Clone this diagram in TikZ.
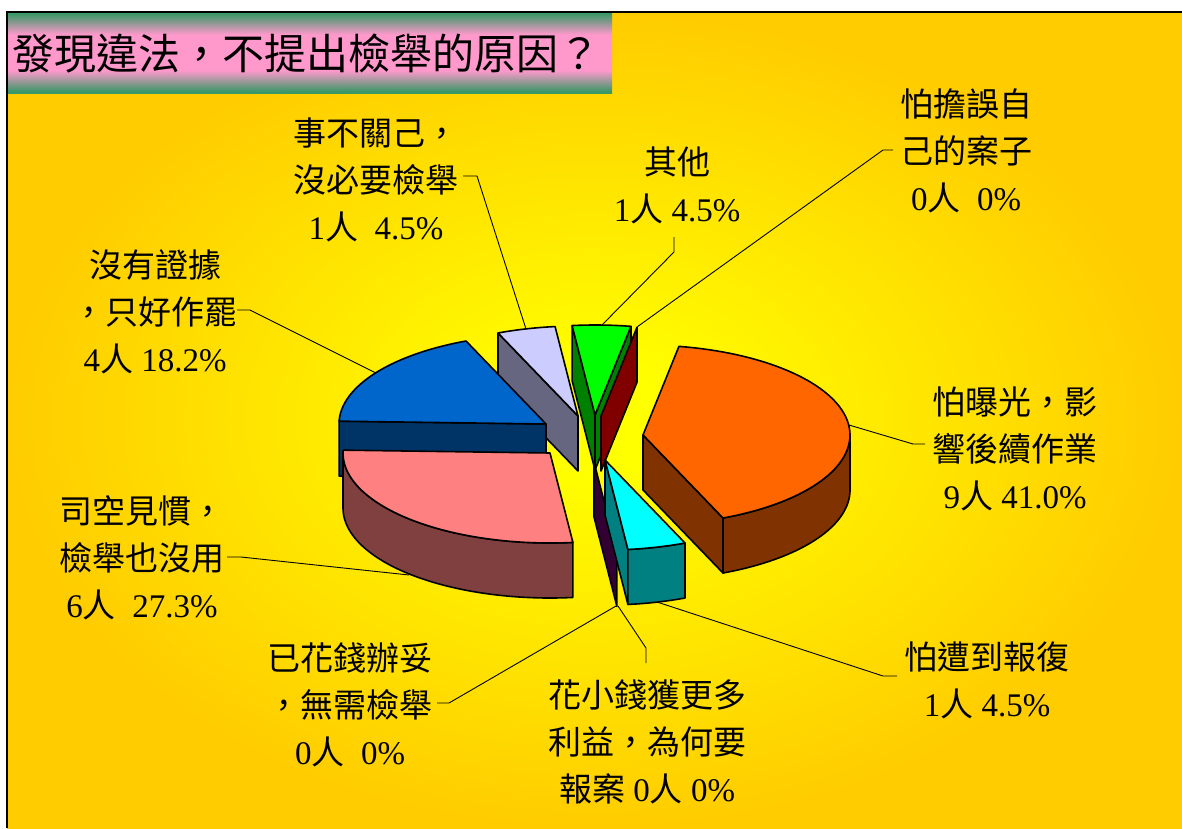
\documentclass[tikz,border=0pt]{standalone}
\usepackage{fontspec}
\setmainfont{Liberation Serif}
\newfontfamily\cjk{Noto Sans CJK TC}
\newcommand\Lt[1]{{\rmfamily #1}}
\definecolor{bgin}{HTML}{FFFF00}
\definecolor{bgout}{HTML}{FFCC00}
\definecolor{tgreen}{HTML}{3A9868}
\definecolor{tpink}{HTML}{FF99CC}
\definecolor{orangeT}{HTML}{FF6600}
\definecolor{orangeS}{HTML}{803300}
\definecolor{cyanT}{HTML}{00FFFF}
\definecolor{cyanS}{HTML}{008080}
\definecolor{purpS}{HTML}{330033}
\definecolor{pinkT}{HTML}{FF8080}
\definecolor{pinkS}{HTML}{804040}
\definecolor{blueT}{HTML}{0066CC}
\definecolor{blueS}{HTML}{003366}
\definecolor{lavT}{HTML}{CCCCFF}
\definecolor{lavS}{HTML}{666680}
\definecolor{greenT}{HTML}{00FF00}
\definecolor{greenS}{HTML}{008000}
\definecolor{redS}{HTML}{800000}
\pgfdeclareradialshading{bgshade}{\pgfpoint{0bp}{0bp}}{color(0bp)=(bgin); color(3bp)=(bgin); color(25bp)=(bgout); color(50bp)=(bgout)}
\pgfdeclareverticalshading{titleshade}{100bp}{color(0bp)=(tgreen); color(26bp)=(tgreen); color(39bp)=(tpink); color(61bp)=(tpink); color(74bp)=(tgreen); color(100bp)=(tgreen)}
\newcommand\pieRx{207}
\newcommand\pieRy{90}
\newcommand\pieH{55}
% top face: cx, cy, from, to, colour
\newcommand\pietop[5]{%
  \filldraw[pieline, fill=#5] (#1,#2) -- plot[domain=#3:#4, samples=70] ({#1+\pieRx*cos(\x)},{#2-\pieRy*sin(\x)}) -- cycle;}
% curved side face
\newcommand\pieside[5]{%
  \filldraw[pieline, fill=#5] plot[domain=#3:#4, samples=70] ({#1+\pieRx*cos(\x)},{#2-\pieRy*sin(\x)}) -- plot[domain=#4:#3, samples=70] ({#1+\pieRx*cos(\x)},{#2+\pieH-\pieRy*sin(\x)}) -- cycle;}
% radial face: cx, cy, angle, colour
\newcommand\pierad[4]{%
  \filldraw[pieline, fill=#4] (#1,#2) -- ({#1+\pieRx*cos(#3)},{#2-\pieRy*sin(#3)}) -- ({#1+\pieRx*cos(#3)},{#2+\pieH-\pieRy*sin(#3)}) -- (#1,{#2+\pieH}) -- cycle;}
\begin{document}
\begin{tikzpicture}[x=1pt,y=-1pt,
  pieline/.style={draw=black, line width=1.6pt, line join=round},
  leader/.style={draw=black, line width=0.9pt},
  lbl/.style={font=\cjk\fontsize{33}{47}\selectfont, align=center, inner sep=0pt},
  frame/.style={draw=black, line width=1.6pt}]
\useasboundingbox (0,0) rectangle (1182,828);
\fill[white] (0,0) rectangle (1182,828);
\shade[shading=bgshade] (7,12) rectangle (1182,828);
\shade[shading=titleshade] (7,12) rectangle (612,93);
\draw[frame] (7,828) -- (7,12) -- (1182,12);
\node[font=\cjk\fontsize{42}{50}\selectfont, anchor=west, inner sep=0pt] (title) at (12,53) {發現違法，不提出檢舉的原因？};

% labels
\node[lbl] (t1) at (376,180) {事不關己，\\沒必要檢舉\\\Lt{1}人\Lt{~~4.5\%}};
\node[lbl] (t2) at (677,185) {其他\\\Lt{1}人\Lt{~4.5\%}};
\node[lbl] (t3) at (966,151) {怕擔誤自\\己的案子\\\Lt{0}人\Lt{~~0\%}};
\node[lbl] (t4) at (1015,449) {怕曝光，影\\響後續作業\\\Lt{9}人\Lt{~41.0\%}};
\node[lbl] (t5) at (987,680) {怕遭到報復\\\Lt{1}人\Lt{~4.5\%}};
\node[lbl] (t6) at (647,742) {花小錢獲更多\\利益，為何要\\報案\Lt{~0}人\Lt{~0\%}};
\node[lbl] (t7) at (350,705) {已花錢辦妥\\，無需檢舉\\\Lt{0}人\Lt{~~0\%}};
\node[lbl] (t8) at (142,558) {司空見慣，\\檢舉也沒用\\\Lt{6}人\Lt{~~27.3\%}};
\node[lbl] (t9) at (155,312) {沒有證據\\，只好作罷\\\Lt{4}人\Lt{~18.2\%}};

% leader points
\coordinate (k1) at (463,176); \coordinate (j1) at (477,176); \coordinate (e1) at (526,329);
\coordinate (k2) at (674,237); \coordinate (j2) at (674,252); \coordinate (e2) at (601,326);
\coordinate (k3) at (893,150); \coordinate (j3) at (883,150); \coordinate (e3) at (637,327);
\coordinate (k4) at (925,444); \coordinate (j4) at (913,444); \coordinate (e4) at (849,425);
\coordinate (k5) at (897,676); \coordinate (j5) at (883,676); \coordinate (e5) at (657,602);
\coordinate (k6) at (646,663); \coordinate (j6) at (646,648); \coordinate (e6) at (618,606);
\coordinate (k7) at (437,703); \coordinate (j7) at (449,703); \coordinate (e7) at (616,606);
\coordinate (k8) at (227,557); \coordinate (j8) at (241,557); \coordinate (e8) at (409,575);
\coordinate (k9) at (237,310); \coordinate (j9) at (250,310); \coordinate (e9) at (376,373);
\foreach \i in {1,...,9} {\draw[leader] (k\i) -- (j\i) -- (e\i);}

% pie slices, back to front
% lavender (1 person)
\pierad{578}{416}{112.73}{lavS}
\pietop{578}{416}{96.36}{112.73}{lavT}
% green (1 person)
\pierad{595}{415}{96.36}{greenS}
\pierad{595}{415}{80}{greenS}
\pietop{595}{415}{80}{96.36}{greenT}
% dark red (0)
\pierad{601}{416}{80}{redS}
% blue (4 persons)
\pierad{546}{424}{178.18}{blueS}
\pietop{546}{424}{112.73}{178.18}{blueT}
% orange (9 persons)
\pierad{643}{435}{-67.27}{orangeS}
\pieside{643}{435}{-67.27}{0}{orangeS}
\pietop{643}{435}{-67.27}{80}{orangeT}
% pink (6 persons)
\pieside{550}{453}{-180}{-83.64}{pinkS}
\pietop{550}{453}{-181.82}{-83.64}{pinkT}
% purple (0)
\pierad{594}{462}{-83.64}{purpS}
% cyan (1 person)
\pierad{605}{460}{-83.64}{cyanS}
\pieside{605}{460}{-83.64}{-67.27}{cyanS}
\pietop{605}{460}{-83.64}{-67.27}{cyanT}
\end{tikzpicture}
\end{document}
